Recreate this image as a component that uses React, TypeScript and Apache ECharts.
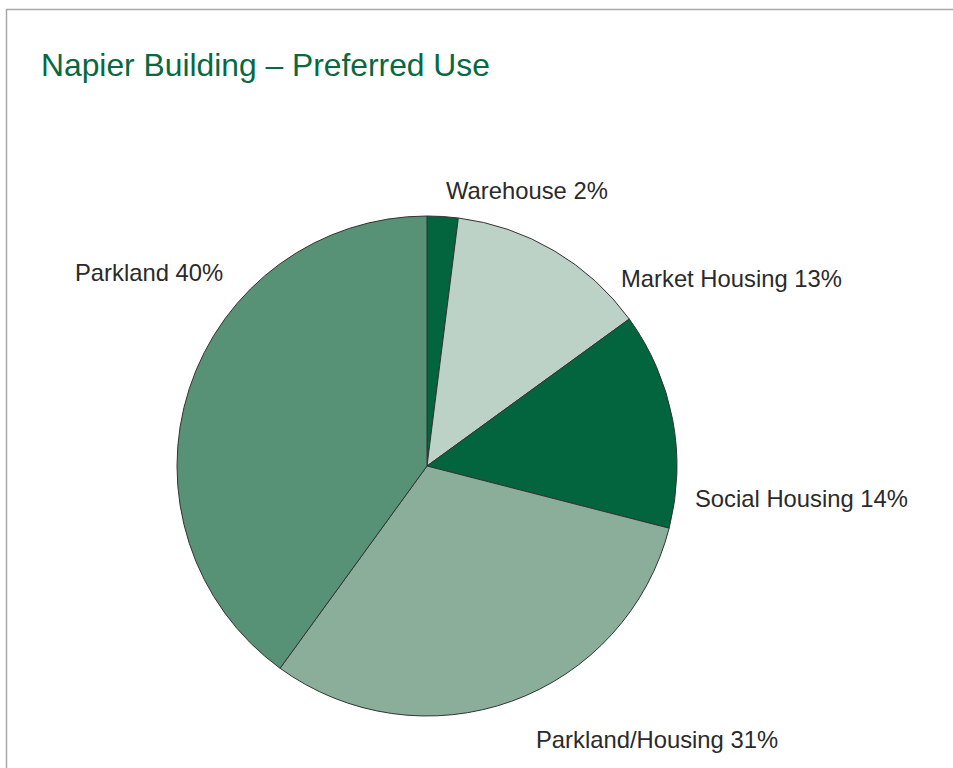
import React, { useEffect, useRef } from "react";
import * as echarts from "echarts";

const titleText = "Napier Building – Preferred Use";
const categories = ["Warehouse", "Market Housing", "Social Housing", "Parkland/Housing", "Parkland"];
const shares = [2, 13, 14, 31, 40];
const sliceColors = ["#02653e", "#bdd2c6", "#02653e", "#8aae9a", "#579276"];
// label anchor (left edge, vertical middle) per slice
const labelAnchors: [number, number][] = [
  [446, 190],
  [621, 278],
  [695, 498],
  [536, 739],
  [75, 272],
];

export default function App() {
  const ref = useRef<HTMLDivElement>(null);
  useEffect(() => {
    if (!ref.current) return;
    const chart = echarts.init(ref.current, undefined, { renderer: "svg" });
    chart.setOption({
      animation: false,
      backgroundColor: "#ffffff",
      graphic: [
        {
          type: "rect",
          shape: { x: 6.5, y: 9.5, width: 1000, height: 1000 },
          style: { fill: "none", stroke: "#a8a8a8", lineWidth: 1.5 },
          silent: true,
        },
        {
          type: "text",
          x: 41,
          y: 65,
          style: {
            text: titleText,
            fill: "#07693f",
            fontSize: 31.8,
            fontFamily: "Liberation Sans",
            verticalAlign: "middle",
            align: "left",
          },
        },
      ],
      series: [
        {
          type: "pie",
          center: [427, 466],
          radius: 250,
          startAngle: 90,
          clockwise: true,
          avoidLabelOverlap: false,
          itemStyle: { borderColor: "#333333", borderWidth: 1 },
          label: {
            show: true,
            position: "outside",
            formatter: "{b} {c}%",
            color: "#2a2a2a",
            fontSize: 23.8,
            fontFamily: "Liberation Sans",
          },
          labelLine: { show: false },
          labelLayout: (params: any) => {
            const a = labelAnchors[params.dataIndex];
            return { x: a[0], y: a[1], align: "left", verticalAlign: "middle" };
          },
          emphasis: { disabled: true },
          data: categories.map((name, i) => ({
            name,
            value: shares[i],
            itemStyle: { color: sliceColors[i] },
          })),
        },
      ],
    });
    return () => chart.dispose();
  }, []);
  return (
    <div
      ref={ref}
      style={{ position: "fixed", left: 0, top: 0, width: 953, height: 768 }}
    />
  );
}
